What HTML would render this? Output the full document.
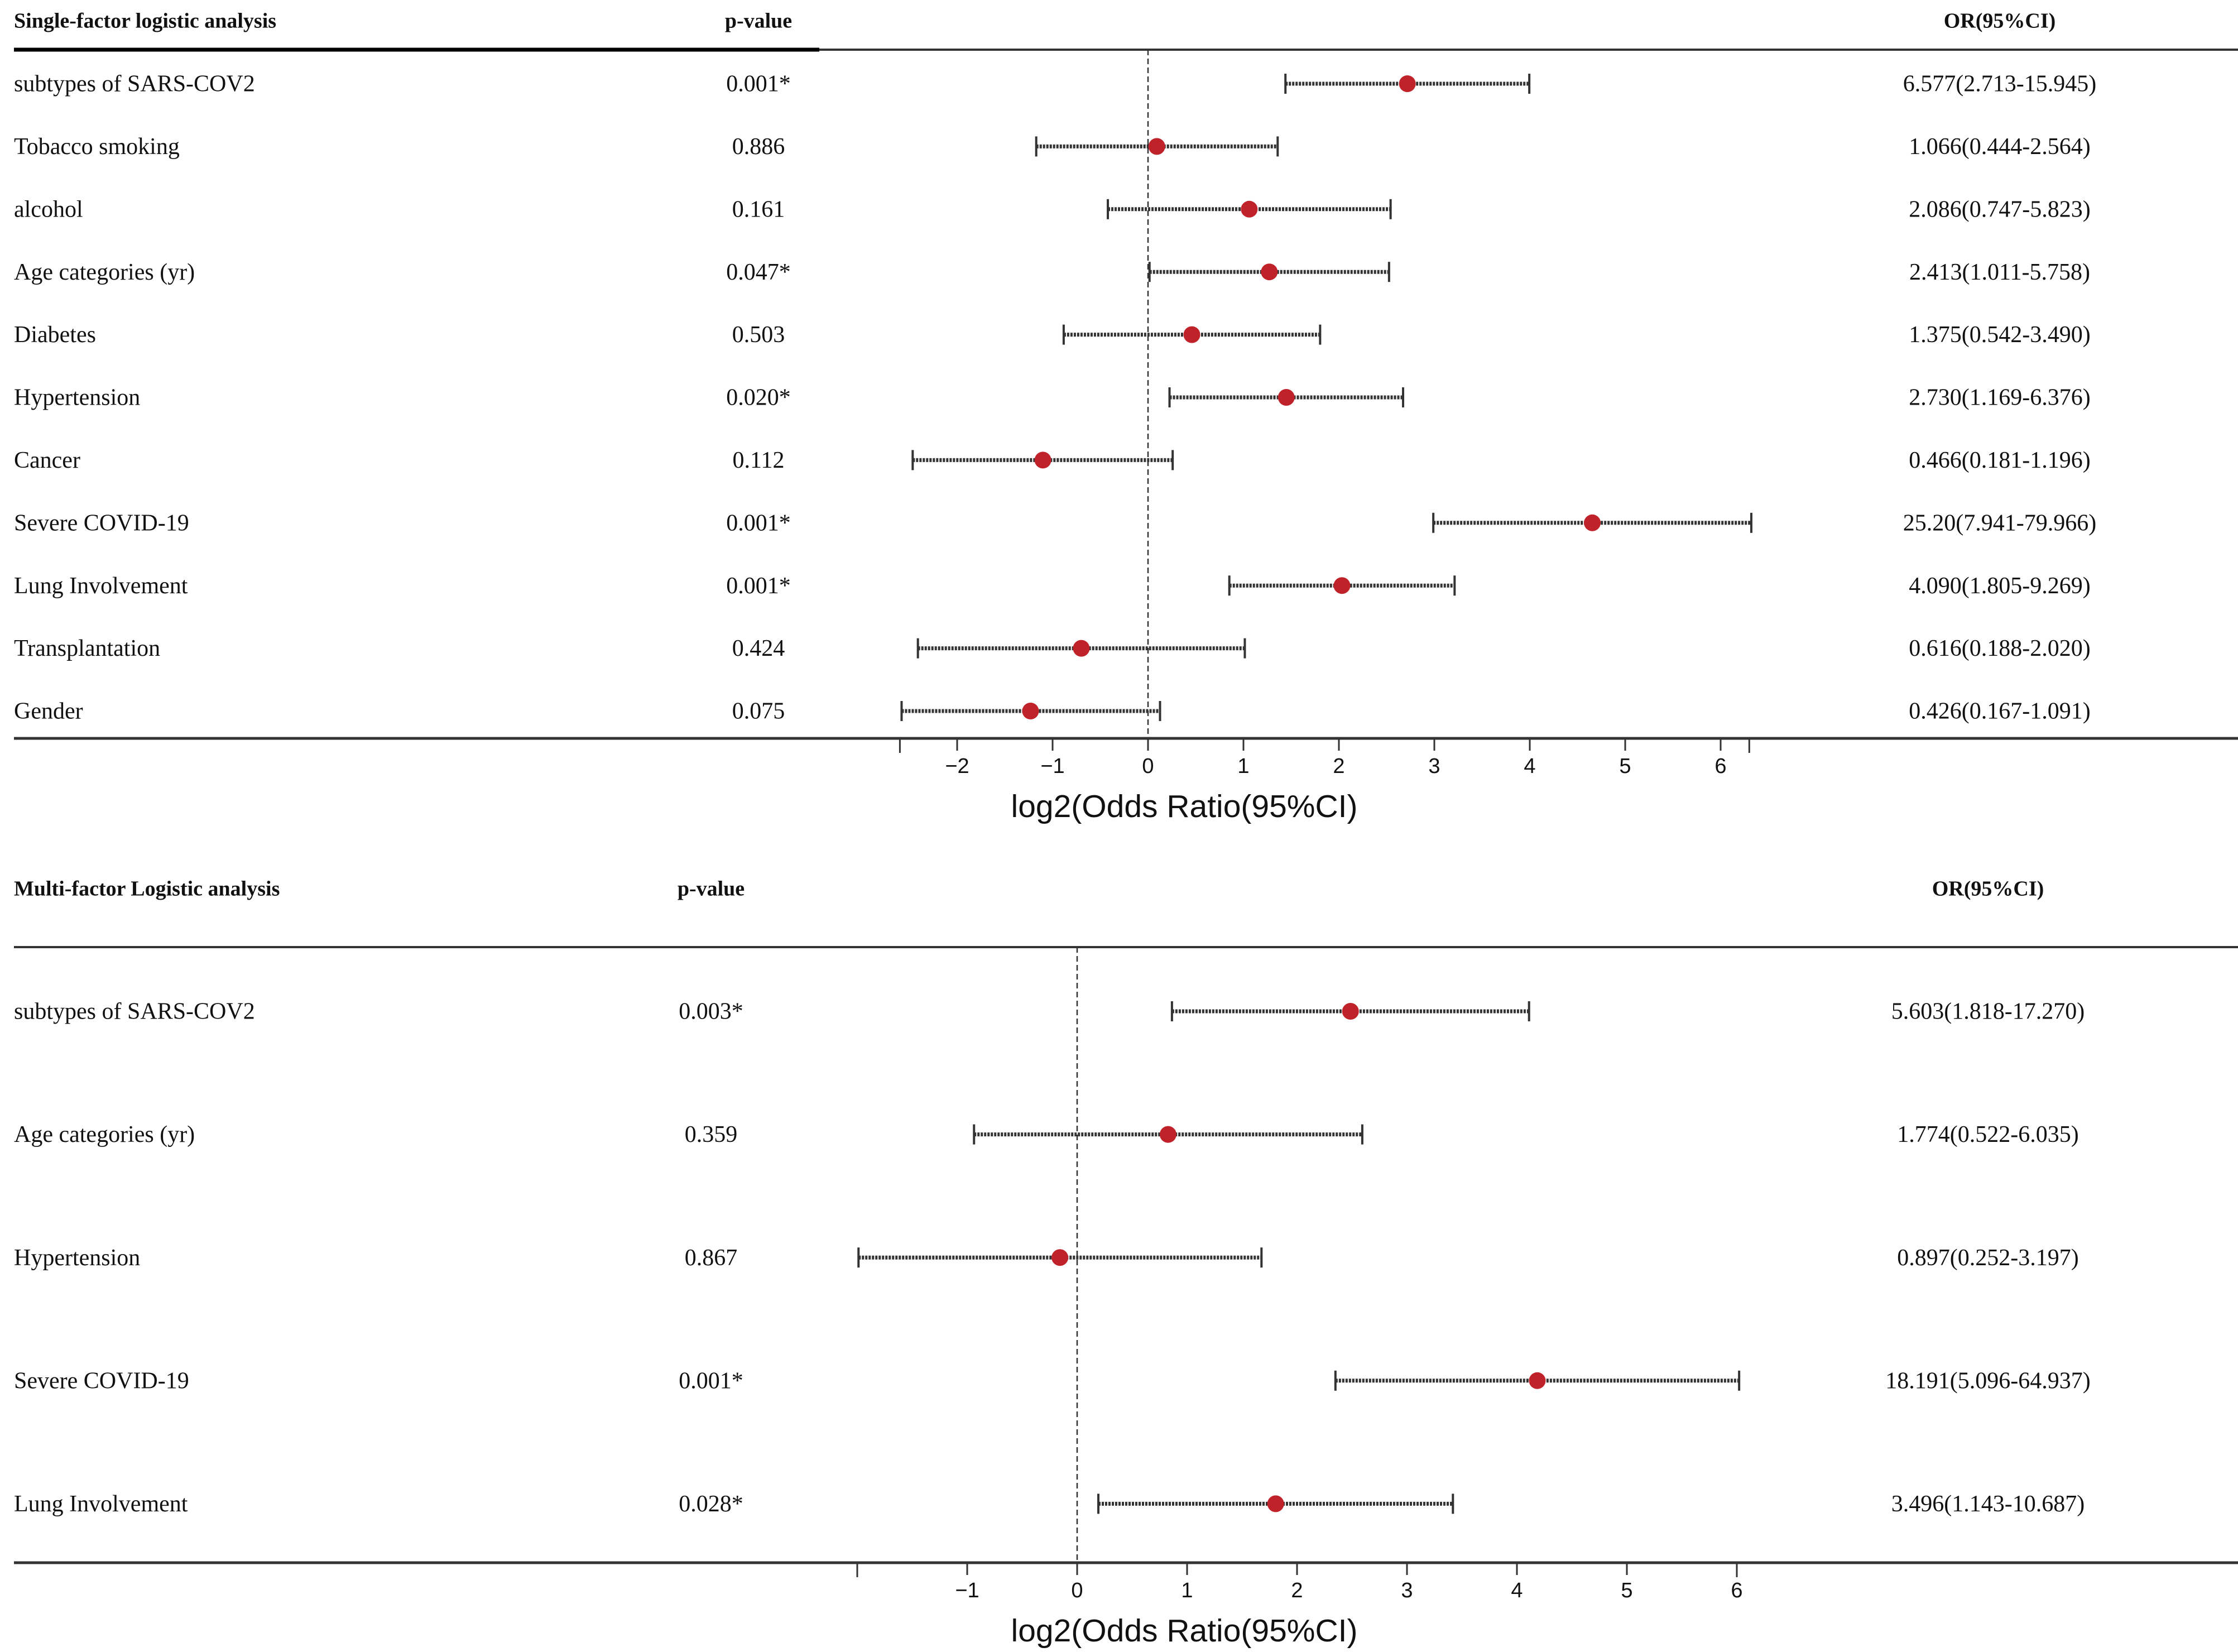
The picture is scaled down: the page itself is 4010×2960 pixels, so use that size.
<!DOCTYPE html>
<html><head><meta charset="utf-8"><style>
html,body{margin:0;padding:0;background:#fff;}
svg{display:block;}
.t{font-family:"Liberation Serif",serif;font-size:42px;fill:#111;}
.b{font-weight:bold;font-size:38px;}
.s{font-family:"Liberation Sans",sans-serif;fill:#111;}
</style></head><body>
<svg id="chart" width="4010" height="2960" viewBox="0 0 4010 2960" xmlns="http://www.w3.org/2000/svg"></svg>
<script>
// Panel 1 data: single-factor
const labels1 = ["subtypes of SARS-COV2","Tobacco smoking","alcohol","Age categories (yr)","Diabetes","Hypertension","Cancer","Severe COVID-19","Lung Involvement","Transplantation","Gender"];
const pvals1 = ["0.001*","0.886","0.161","0.047*","0.503","0.020*","0.112","0.001*","0.001*","0.424","0.075"];
const orText1 = ["6.577(2.713-15.945)","1.066(0.444-2.564)","2.086(0.747-5.823)","2.413(1.011-5.758)","1.375(0.542-3.490)","2.730(1.169-6.376)","0.466(0.181-1.196)","25.20(7.941-79.966)","4.090(1.805-9.269)","0.616(0.188-2.020)","0.426(0.167-1.091)"];
const or1 = [6.577,1.066,2.086,2.413,1.375,2.730,0.466,25.20,4.090,0.616,0.426];
const lo1 = [2.713,0.444,0.747,1.011,0.542,1.169,0.181,7.941,1.805,0.188,0.167];
const hi1 = [15.945,2.564,5.823,5.758,3.490,6.376,1.196,79.966,9.269,2.020,1.091];
const ticks1 = [-2,-1,0,1,2,3,4,5,6];
// Panel 2 data: multi-factor
const labels2 = ["subtypes of SARS-COV2","Age categories (yr)","Hypertension","Severe COVID-19","Lung Involvement"];
const pvals2 = ["0.003*","0.359","0.867","0.001*","0.028*"];
const orText2 = ["5.603(1.818-17.270)","1.774(0.522-6.035)","0.897(0.252-3.197)","18.191(5.096-64.937)","3.496(1.143-10.687)"];
const or2 = [5.603,1.774,0.897,18.191,3.496];
const lo2 = [1.818,0.522,0.252,5.096,1.143];
const hi2 = [17.270,6.035,3.197,64.937,10.687];
const ticks2 = [-1,0,1,2,3,4,5,6];

const NS="http://www.w3.org/2000/svg";
const svg=document.getElementById('chart');
function mk(tag,attrs,parent){const e=document.createElementNS(NS,tag);for(const k in attrs)e.setAttribute(k,attrs[k]);(parent||svg).appendChild(e);return e;}
function txt(x,y,s,cls,anchor,parent){const e=mk('text',{x:x,y:y,class:cls,'text-anchor':anchor||'start','dominant-baseline':'middle'},parent);e.textContent=s;return e;}

function panel(cfg){
  const g=mk('g',{});
  
  
  const xs=v=>cfg.x0+v*cfg.unit;
  let h=txt(25,cfg.headY,cfg.title,'t b','start',g);
  
  
  h=txt(cfg.pX,cfg.headY,'p-value','t b','middle',g);
  
  
  h=txt(cfg.orX,cfg.headY,'OR(95%CI)','t b','middle',g);
  
  
  let l=mk('line',{x1:25,x2:4010,y1:cfg.lineY,y2:cfg.lineY,stroke:'#333','stroke-width':4},g);
  
  
  if(cfg.thick){l=mk('line',{x1:25,x2:1468,y1:cfg.lineY,y2:cfg.lineY,stroke:'#000','stroke-width':7},g);
  
  }
  l=mk('line',{x1:xs(0),x2:xs(0),y1:cfg.lineY,y2:cfg.axisY,stroke:'#333','stroke-width':2.5,'stroke-dasharray':'10,6'},g);
  
  
  cfg.labels.forEach((lab,i)=>{
    const y=cfg.row0+i*cfg.step;
    let t=txt(25,y+4,lab,'t','start',g);
    
    
    t=txt(cfg.pX,y+4,cfg.pvals[i],'t','middle',g);
    
    
    t=txt(cfg.orX,y+4,cfg.orText[i],'t','middle',g);
    
    
    const a=xs(Math.log2(cfg.lo[i])),b=xs(Math.log2(cfg.hi[i])),m=xs(Math.log2(cfg.or[i]));
    let e=mk('line',{x1:a,x2:b,y1:y,y2:y,stroke:'#333','stroke-width':7,'stroke-dasharray':'4,2'},g);
    
    
    e=mk('line',{x1:a,x2:a,y1:y-18,y2:y+18,stroke:'#333','stroke-width':4},g);
    
    
    e=mk('line',{x1:b,x2:b,y1:y-18,y2:y+18,stroke:'#333','stroke-width':4},g);
    
    
    e=mk('circle',{cx:m,cy:y,r:15,fill:'#c0222a'},g);
    
    
  });
  l=mk('line',{x1:25,x2:4010,y1:cfg.axisY,y2:cfg.axisY,stroke:'#333','stroke-width':5},g);
  
  
  cfg.endTicks.forEach(v=>{
    const e=mk('line',{x1:xs(v),x2:xs(v),y1:cfg.axisY,y2:cfg.axisY+26,stroke:'#333','stroke-width':3},g);
    
    
  });
  cfg.ticks.forEach(v=>{
    const e=mk('line',{x1:xs(v),x2:xs(v),y1:cfg.axisY,y2:cfg.axisY+22,stroke:'#333','stroke-width':3},g);
    
    
    const t=txt(xs(v),cfg.axisY+52,v<0?'\u2212'+(-v):String(v),'s','middle',g);
    t.setAttribute('font-size','38');
    
    
  });
  const at=txt(cfg.titleX,cfg.axisY+126,'log2(Odds Ratio(95%CI)','s','middle',g);
  at.setAttribute('font-size','57');
  
  
}
panel({name:'single-factor-panel',title:'Single-factor logistic analysis',headY:41,lineY:89,thick:true,x0:2057,unit:171,row0:150,step:112.4,
  labels:labels1,pvals:pvals1,orText:orText1,or:or1,lo:lo1,hi:hi1,ticks:ticks1,endTicks:[-2.6,6.3],pX:1359,orX:3583,axisY:1323,titleX:2122});
panel({name:'multi-factor-panel',title:'Multi-factor Logistic analysis',headY:1596,lineY:1697,thick:false,x0:1930,unit:197,row0:1812,step:220.6,
  labels:labels2,pvals:pvals2,orText:orText2,or:or2,lo:lo2,hi:hi2,ticks:ticks2,endTicks:[-2,6],pX:1274,orX:3562,axisY:2800,titleX:2122});
</script>
</body></html>
